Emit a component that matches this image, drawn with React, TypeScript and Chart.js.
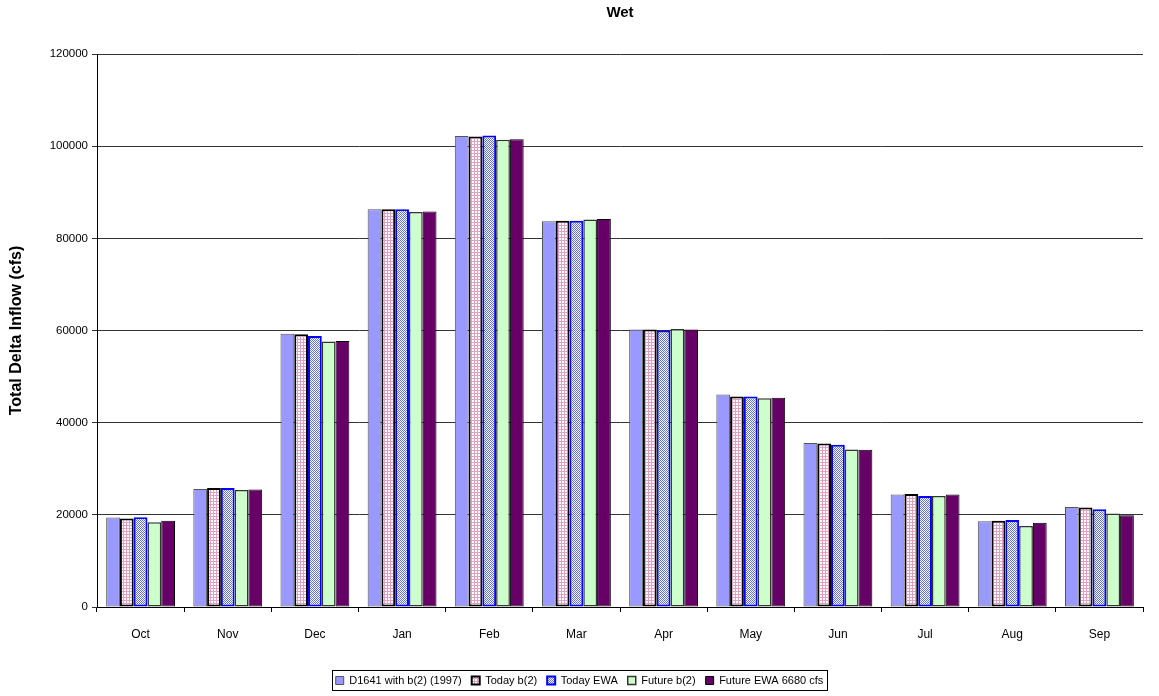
import React, { useEffect, useRef } from "react";
import { Chart, registerables } from "chart.js";

Chart.register(...registerables);

const months = ["Oct", "Nov", "Dec", "Jan", "Feb", "Mar", "Apr", "May", "Jun", "Jul", "Aug", "Sep"];
const d1641 = [19400, 25600, 59300, 86300, 102200, 83700, 60200, 46100, 35600, 24400, 18600, 21700];
const todayB2 = [19200, 25800, 59200, 86300, 102100, 83800, 60200, 45700, 35500, 24500, 18700, 21600];
const todayEWA = [19500, 25800, 58800, 86300, 102300, 83800, 60000, 45700, 35200, 24100, 18900, 21200];
const futureB2 = [18400, 25400, 57600, 85700, 101400, 84100, 60300, 45300, 34200, 24100, 17600, 20300];
const futureEWA = [18700, 25500, 57700, 85800, 101500, 84200, 60200, 45400, 34100, 24400, 18300, 19900];
const seriesNames = ["D1641 with b(2) (1997)", "Today b(2)", "Today EWA", "Future b(2)", "Future EWA 6680 cfs"];
const yTicks = [0, 20000, 40000, 60000, 80000, 100000, 120000];
const chartTitle = "Wet";
const yTitle = "Total Delta Inflow (cfs)";

const FONT = "'Liberation Sans', Arial, sans-serif";

function gridPattern(line: string, bg: string): CanvasPattern | string {
  const c = document.createElement("canvas");
  c.width = 3;
  c.height = 3;
  const ctx = c.getContext("2d");
  if (!ctx) return line;
  ctx.fillStyle = bg;
  ctx.fillRect(0, 0, 3, 3);
  ctx.fillStyle = line;
  ctx.fillRect(0, 0, 3, 1);
  ctx.fillRect(0, 0, 1, 3);
  return ctx.createPattern(c, "repeat") || line;
}

function checkerPattern(a: string, b: string): CanvasPattern | string {
  const c = document.createElement("canvas");
  c.width = 2;
  c.height = 2;
  const ctx = c.getContext("2d");
  if (!ctx) return a;
  ctx.fillStyle = b;
  ctx.fillRect(0, 0, 2, 2);
  ctx.fillStyle = a;
  ctx.fillRect(0, 0, 1, 1);
  ctx.fillRect(1, 1, 1, 1);
  return ctx.createPattern(c, "repeat") || a;
}

const extras = {
  id: "extras",
  beforeDraw(chart: any) {
    const lg = chart.legend;
    if (lg) {
      const target = chart.width / 2;
      const cur = (lg.left + lg.right) / 2;
      const dx = target - cur;
      if (Math.abs(dx) > 0.01) {
        lg.left += dx;
        lg.right += dx;
        if (typeof lg.adjustHitBoxes === "function") lg.adjustHitBoxes();
      }
    }
  },
  afterDraw(chart: any) {
    const ctx = chart.ctx;
    const ca = chart.chartArea;
    ctx.save();
    ctx.fillStyle = "#000";
    ctx.font = "bold 15px " + FONT;
    ctx.textAlign = "center";
    ctx.textBaseline = "middle";
    ctx.fillText(chartTitle, (ca.left + ca.right) / 2, 13);
    ctx.restore();

    const lg = chart.legend;
    if (!lg || !lg.lineWidths || !lg.lineWidths.length) return;
    const w = lg.lineWidths[0];
    const cx = (lg.left + lg.right) / 2;
    const x0 = Math.round(cx - w / 2 + 1) + 0.5;
    const x1 = Math.round(cx + w / 2 - 1) + 0.5;
    const y0 = Math.round(lg.top + 5) + 0.5;
    const y1 = Math.round(lg.bottom - 6) + 0.5;
    ctx.save();
    ctx.strokeStyle = "#000";
    ctx.lineWidth = 1;
    ctx.strokeRect(x0, y0, x1 - x0, y1 - y0);
    ctx.restore();
  },
};

export default function App() {
  const ref = useRef<HTMLCanvasElement | null>(null);

  useEffect(() => {
    if (!ref.current) return;
    const chart = new Chart(ref.current, {
      type: "bar",
      data: {
        labels: months,
        datasets: [
          { label: seriesNames[0], data: d1641, backgroundColor: "#9999FF", borderColor: "#555555", borderWidth: 1 },
          { label: seriesNames[1], data: todayB2, backgroundColor: gridPattern("#E0A0C4", "#FFFFFF"), borderColor: "#000000", borderWidth: 2 },
          { label: seriesNames[2], data: todayEWA, backgroundColor: checkerPattern("#6070E8", "#FFFFFF"), borderColor: "#0000FF", borderWidth: 2 },
          { label: seriesNames[3], data: futureB2, backgroundColor: "#CCFFCC", borderColor: "#333333", borderWidth: 1.5 },
          { label: seriesNames[4], data: futureEWA, backgroundColor: "#660066", borderColor: "#000000", borderWidth: 1 },
        ].map((d) => ({ ...d, categoryPercentage: 0.79, barPercentage: 1.0, borderSkipped: false as any })),
      },
      options: {
        animation: false,
        responsive: true,
        maintainAspectRatio: false,
        layout: { padding: { left: 0, right: 16, top: 54, bottom: 0 } },
        plugins: {
          title: { display: false },
          legend: {
            position: "bottom",
            labels: {
              color: "#000",
              font: { family: FONT, size: 11 },
              boxWidth: 8,
              boxHeight: 8,
              padding: 10,
            },
          },
          tooltip: { enabled: false },
        },
        scales: {
          x: {
            grid: { drawOnChartArea: false, drawTicks: true, tickLength: 5, color: "#000", offset: true },
            border: { color: "#000", width: 1 },
            ticks: { color: "#000", font: { family: FONT, size: 12 }, padding: 15, maxRotation: 0 },
            afterFit: (s: any) => { s.height = 58; },
          },
          y: {
            min: 0,
            max: 120000,
            afterBuildTicks: (s: any) => { s.ticks = yTicks.map((v) => ({ value: v })); },
            grid: { color: "#333", lineWidth: 1, tickLength: 5 },
            border: { color: "#000", width: 1 },
            ticks: { color: "#000", font: { family: FONT, size: 11.5 }, padding: 4, callback: (v: any) => String(v) },
            title: {
              display: true,
              text: yTitle,
              color: "#000",
              font: { family: FONT, size: 16, weight: "bold" },
              padding: { top: 7, bottom: 0 },
            },
            afterFit: (s: any) => { s.width = 97; },
          },
        },
      },
      plugins: [extras],
    });
    return () => chart.destroy();
  }, []);

  return (
    <div style={{ position: "absolute", left: 0, top: 0, width: 1159, height: 696, background: "#fff" }}>
      <canvas ref={ref} />
    </div>
  );
}
